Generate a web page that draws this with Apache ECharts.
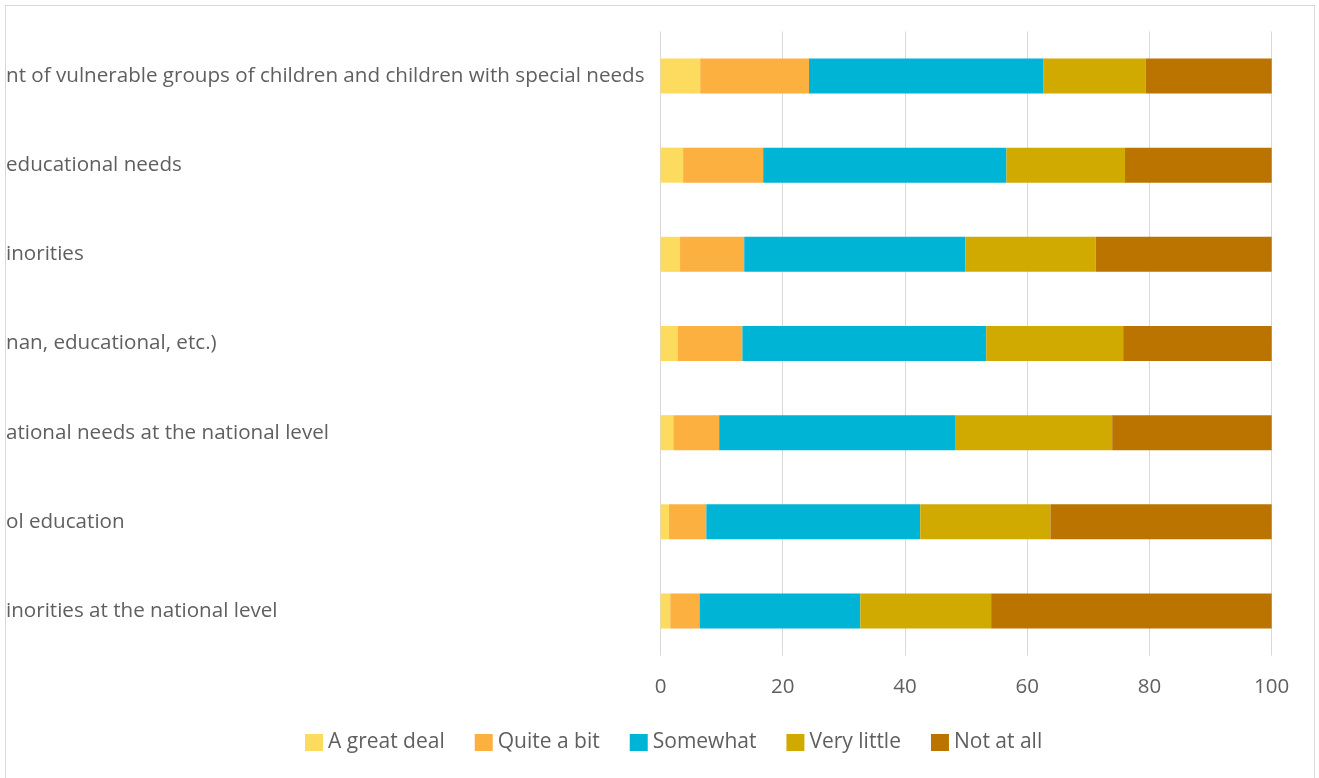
<!DOCTYPE html>
<html>
<head>
<meta charset="utf-8">
<script src="https://cdn.jsdelivr.net/npm/echarts@6/dist/echarts.min.js"></script>
<style>
  html, body { margin: 0; padding: 0; background: #ffffff; }
  #frame { position: absolute; left: 5px; top: 5px; width: 1310px; height: 776px; border: 1px solid #d9d9d9; box-sizing: border-box; overflow: hidden; background: #fff; }
  #chart { position: absolute; left: 0; top: 0; width: 1308px; height: 768px; }
</style>
</head>
<body>
<div id="frame"><div id="chart"></div></div>
<script>
const categories = [
  "nt of vulnerable groups of children and children with special needs",
  "educational needs",
  "inorities",
  "nan, educational, etc.)",
  "ational needs at the national level",
  "ol education",
  "inorities at the national level"
];
const seriesNames = ["A great deal", "Quite a bit", "Somewhat", "Very little", "Not at all"];
const aGreatDeal = [6.5, 3.7, 3.2, 2.8, 2.1, 1.4, 1.6];
const quiteABit  = [17.8, 13.1, 10.5, 10.6, 7.5, 6.1, 4.8];
const somewhat   = [38.3, 39.8, 36.2, 39.9, 38.7, 35.0, 26.3];
const veryLittle = [16.8, 19.4, 21.3, 22.4, 25.6, 21.3, 21.4];
const notAtAll   = [20.6, 24.0, 28.8, 24.3, 26.1, 36.2, 45.9];
const xTicks = [0, 20, 40, 60, 80, 100];
const colors = ["#FDDB5F", "#FBB040", "#00B4D6", "#D1AA00", "#BC7400"];

const values = [aGreatDeal, quiteABit, somewhat, veryLittle, notAtAll];
const chart = echarts.init(document.getElementById('chart'), null, { renderer: 'canvas' });
const font = "'Open Sans', 'Noto Sans', sans-serif";
const textColor = '#5f5f5f';
chart.setOption({
  animation: false,
  color: colors,
  textStyle: { fontFamily: font },
  grid: {
    left: 654.5, right: 42.3, top: 25.4, bottom: 118.4,
    containLabel: false, outerBoundsMode: 'none'
  },
  legend: {
    data: seriesNames,
    left: 294, top: 721,
    itemWidth: 18, itemHeight: 17, itemGap: 30,
    icon: 'rect',
    textStyle: { color: textColor, fontSize: 21, fontFamily: font }
  },
  xAxis: {
    type: 'value', min: xTicks[0], max: xTicks[xTicks.length - 1], interval: 20,
    axisLine: { show: false }, axisTick: { show: false },
    splitLine: { show: true, lineStyle: { color: '#d9d9d9', width: 1 } },
    axisLabel: { color: textColor, fontSize: 20.5, fontFamily: font, margin: 21 }
  },
  yAxis: {
    type: 'category', data: categories, inverse: true,
    axisLine: { show: false }, axisTick: { show: false },
    axisLabel: { color: textColor, fontSize: 20.6, fontFamily: font, align: 'left', margin: 654.5, padding: [5, 0, 0, 0] }
  },
  series: seriesNames.map((name, i) => ({
    name: name, type: 'bar', stack: 'total',
    data: values[i], barCategoryGap: '60.7%',
    itemStyle: { color: colors[i] }
  }))
});
</script>
</body>
</html>
